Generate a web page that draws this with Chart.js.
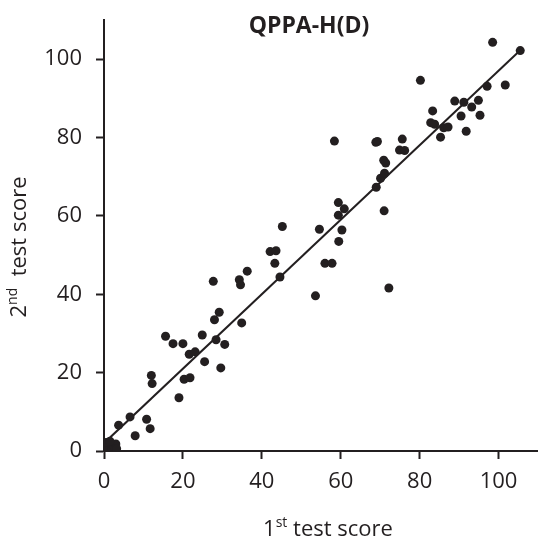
<!DOCTYPE html>
<html>
<head>
<meta charset="utf-8">
<script src="https://cdn.jsdelivr.net/npm/chart.js"></script>
<style>
  html, body { margin: 0; padding: 0; background: #fff; }
  #wrap { width: 538px; height: 540px; }
</style>
</head>
<body>
<div id="wrap"><canvas id="chart" width="538" height="540"></canvas></div>
<script>
// scores
const firstScore = [
  0, 0.3, 0.6, 1, 1.2, 1.8, 2, 2.5, 3, 3.2, 0.5, 1.5,
  3.7, 6.6, 7.9, 10.8, 11.7, 12.0, 12.2, 15.6, 17.5, 19.0, 20.0, 20.3,
  21.8, 21.6, 23.1, 24.9, 25.5, 27.7, 28.0, 28.4, 29.2, 29.6, 30.6, 34.3,
  34.6, 34.9, 36.3, 42.1, 43.6, 43.3, 44.6, 45.2, 53.6, 54.6, 56.0, 57.8,
  58.4, 59.4, 59.4, 59.5, 60.3, 60.9, 69.0, 68.9, 69.3, 70.1, 70.9, 71.4,
  71.1, 71.0, 72.2, 74.9, 76.2, 75.6, 80.2, 82.8, 83.8, 83.3, 85.3, 86.1,
  87.2, 88.9, 90.5, 91.2, 91.8, 93.2, 94.9, 95.3, 97.1, 98.5, 101.7, 105.5
];
const secondScore = [
  0, 1, 0.3, 2, 0.8, 1.5, 0.3, 1.2, 1.8, 0.6, 2.2, 2.5,
  6.6, 8.7, 3.9, 8.1, 5.7, 19.3, 17.2, 29.3, 27.4, 13.6, 27.4, 18.3,
  18.7, 24.7, 25.3, 29.6, 22.8, 43.3, 33.5, 28.4, 35.4, 21.2, 27.2, 43.7,
  42.4, 32.7, 45.9, 50.9, 51.1, 47.9, 44.4, 57.3, 39.6, 56.6, 47.9, 47.9,
  79.1, 63.4, 60.2, 53.5, 56.4, 61.8, 67.3, 78.8, 79.0, 69.6, 74.2, 73.5,
  70.9, 61.3, 41.6, 76.8, 76.7, 79.6, 94.6, 83.8, 83.4, 86.8, 80.1, 82.5,
  82.7, 89.3, 85.5, 89.0, 81.6, 87.8, 89.5, 85.7, 93.1, 104.3, 93.4, 102.2
];
const fitX = [0, 105.5];
const fitY = [2, 102.3];
const axisTicks = [0, 20, 40, 60, 80, 100];

const ink = '#231f20';
const FONT = '"Open Sans", "Noto Sans", sans-serif';

const scatterPoints = firstScore.map((x, i) => ({ x: x, y: secondScore[i] }));
const fitPoints = fitX.map((x, i) => ({ x: x, y: fitY[i] }));

// title and axis titles with superscripts
const labelsPlugin = {
  id: 'labels',
  afterDraw(chart) {
    const ctx = chart.ctx;
    ctx.save();
    ctx.fillStyle = ink;
    ctx.textBaseline = 'alphabetic';

    ctx.font = 'bold 23px ' + FONT;
    ctx.textAlign = 'center';
    ctx.fillText('QPPA-H(D)', 309, 33);

    const drawSup = (parts, cx, cy) => {
      ctx.textAlign = 'left';
      let w = 0;
      parts.forEach(p => { ctx.font = p.size + 'px ' + FONT; w += ctx.measureText(p.t).width; });
      let x = cx - w / 2;
      parts.forEach(p => {
        ctx.font = p.size + 'px ' + FONT;
        ctx.fillText(p.t, x, cy + p.dy);
        x += ctx.measureText(p.t).width;
      });
    };

    drawSup([{ t: '1', size: 22, dy: 0 }, { t: 'st', size: 14, dy: -9 }, { t: ' test score', size: 22, dy: 0 }], 328, 536);

    ctx.save();
    ctx.translate(26, 247);
    ctx.rotate(-Math.PI / 2);
    drawSup([{ t: '2', size: 22, dy: 0 }, { t: 'nd', size: 14, dy: -9 }, { t: '  test score', size: 22, dy: 0 }], 0, 0);
    ctx.restore();

    ctx.restore();
  }
};

const axisCommon = {
  type: 'linear',
  min: 0,
  max: 110,
  afterBuildTicks: (scale) => {
    scale.ticks = axisTicks.map(v => ({ value: v }));
  },
  grid: {
    display: true,
    drawOnChartArea: false,
    drawTicks: true,
    tickLength: 8,
    tickWidth: 2,
    tickColor: ink
  },
  border: { display: true, color: ink, width: 2 },
  title: { display: false }
};

new Chart(document.getElementById('chart'), {
  type: 'scatter',
  data: {
    datasets: [
      {
        label: 'scores',
        data: scatterPoints,
        backgroundColor: ink,
        borderColor: ink,
        pointRadius: 4.5,
        pointHoverRadius: 4.5,
        borderWidth: 0
      },
      {
        type: 'line',
        label: 'fit',
        data: fitPoints,
        borderColor: ink,
        borderWidth: 2,
        pointRadius: 0,
        fill: false,
        tension: 0
      }
    ]
  },
  options: {
    responsive: false,
    animation: false,
    layout: { autoPadding: false, padding: { top: 20, right: 0, left: 0, bottom: 0 } },
    plugins: {
      legend: { display: false },
      tooltip: { enabled: false },
      title: { display: false }
    },
    scales: {
      x: Object.assign({}, axisCommon, {
        afterFit: (scale) => {
          scale.height = 89;
          scale.paddingLeft = 0;
          scale.paddingRight = 0;
        },
        ticks: { color: ink, font: { family: FONT, size: 22 }, padding: 10, maxRotation: 0 }
      }),
      y: Object.assign({}, axisCommon, {
        afterFit: (scale) => {
          scale.width = 104;
          scale.paddingTop = 0;
          scale.paddingBottom = 0;
        },
        ticks: { color: ink, font: { family: FONT, size: 22 }, padding: 14 }
      })
    }
  },
  plugins: [labelsPlugin]
});
</script>
</body>
</html>
